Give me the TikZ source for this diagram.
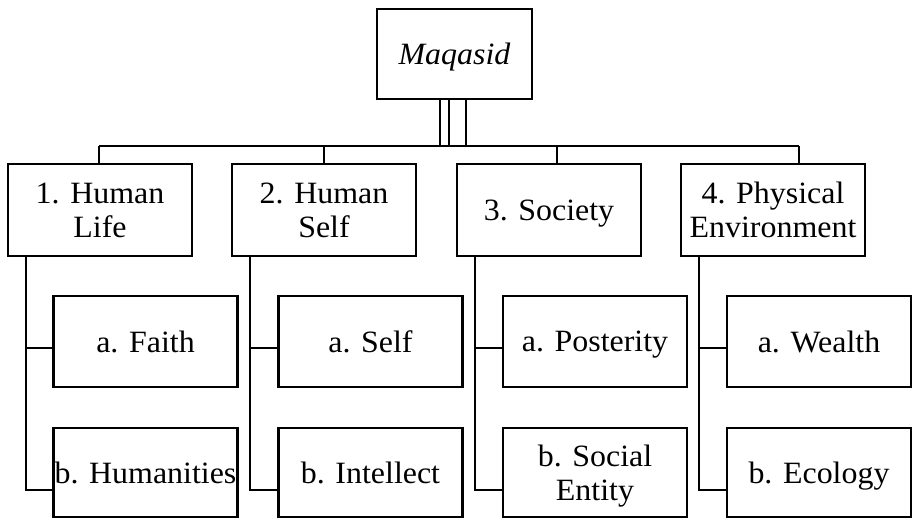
\documentclass[tikz,border=0pt]{standalone}
\usepackage{fontspec}
\setmainfont[FakeStretch=1.03]{Liberation Serif}
\begin{document}
\begin{tikzpicture}[x=1pt,y=-1pt, line width=2.9pt,
  box/.style={draw, line width=2.9pt, inner sep=1pt, align=center,
    font=\fontsize{31}{34}\selectfont, minimum width=184pt, text depth=0pt},
  lvlone/.style={box, minimum height=92pt},
  lvla/.style={box, minimum height=91pt},
  lvlb/.style={box, minimum height=89pt}]
\useasboundingbox (0,0) rectangle (913,520);
% root
\node[box, minimum width=155pt, minimum height=90pt,
  font=\fontsize{31}{34}\selectfont\itshape] (maq) at (454.5,54) {Maqasid};
% level one
\node[lvlone] (h1) at (100,210) {1. Human\\Life};
\node[lvlone] (h2) at (324,210) {2. Human\\Self};
\node[lvlone] (h3) at (549,210) {3. Society};
\node[lvlone] (h4) at (773,210) {4. Physical\\Environment};
% level two
\node[lvla] (a1) at (145.5,341.5) {a. Faith};
\node[lvla] (a2) at (370.5,341.5) {a. Self};
\node[lvla] (a3) at (595,341.5) {a. Posterity};
\node[lvla] (a4) at (819,341.5) {a. Wealth};
\node[lvlb] (b1) at (145.5,472.5) {b. Humanities};
\node[lvlb] (b2) at (370.5,472.5) {b. Intellect};
\node[lvlb] (b3) at (595,472.5) {b. Social\\Entity};
\node[lvlb] (b4) at (819,472.5) {b. Ecology};
% bus
\coordinate (bus1) at (99,146);
\coordinate (bus2) at (324,146);
\coordinate (bus3) at (557,146);
\coordinate (bus4) at (799,146);
\coordinate (m1) at (440,146);
\coordinate (m2) at (449,146);
\coordinate (m3) at (466,146);
\draw (bus1) -- (bus4);
\foreach \i in {1,2,3,4} {\draw (bus\i) -- (bus\i |- h\i.north);}
\foreach \i in {1,2,3} {\draw (m\i) -- (m\i |- maq.south);}
% branches
\coordinate (v1) at (26,490);
\coordinate (v2) at (250,490);
\coordinate (v3) at (475,490);
\coordinate (v4) at (699,490);
\coordinate (t1) at (26,348);
\coordinate (t2) at (250,348);
\coordinate (t3) at (475,348);
\coordinate (t4) at (699,348);
\foreach \i in {1,2,3,4} {
  \draw (v\i |- h\i.south) -- (v\i) -- (v\i -| b\i.west);
  \draw (t\i) -- (t\i -| a\i.west);
}
\end{tikzpicture}
\end{document}
